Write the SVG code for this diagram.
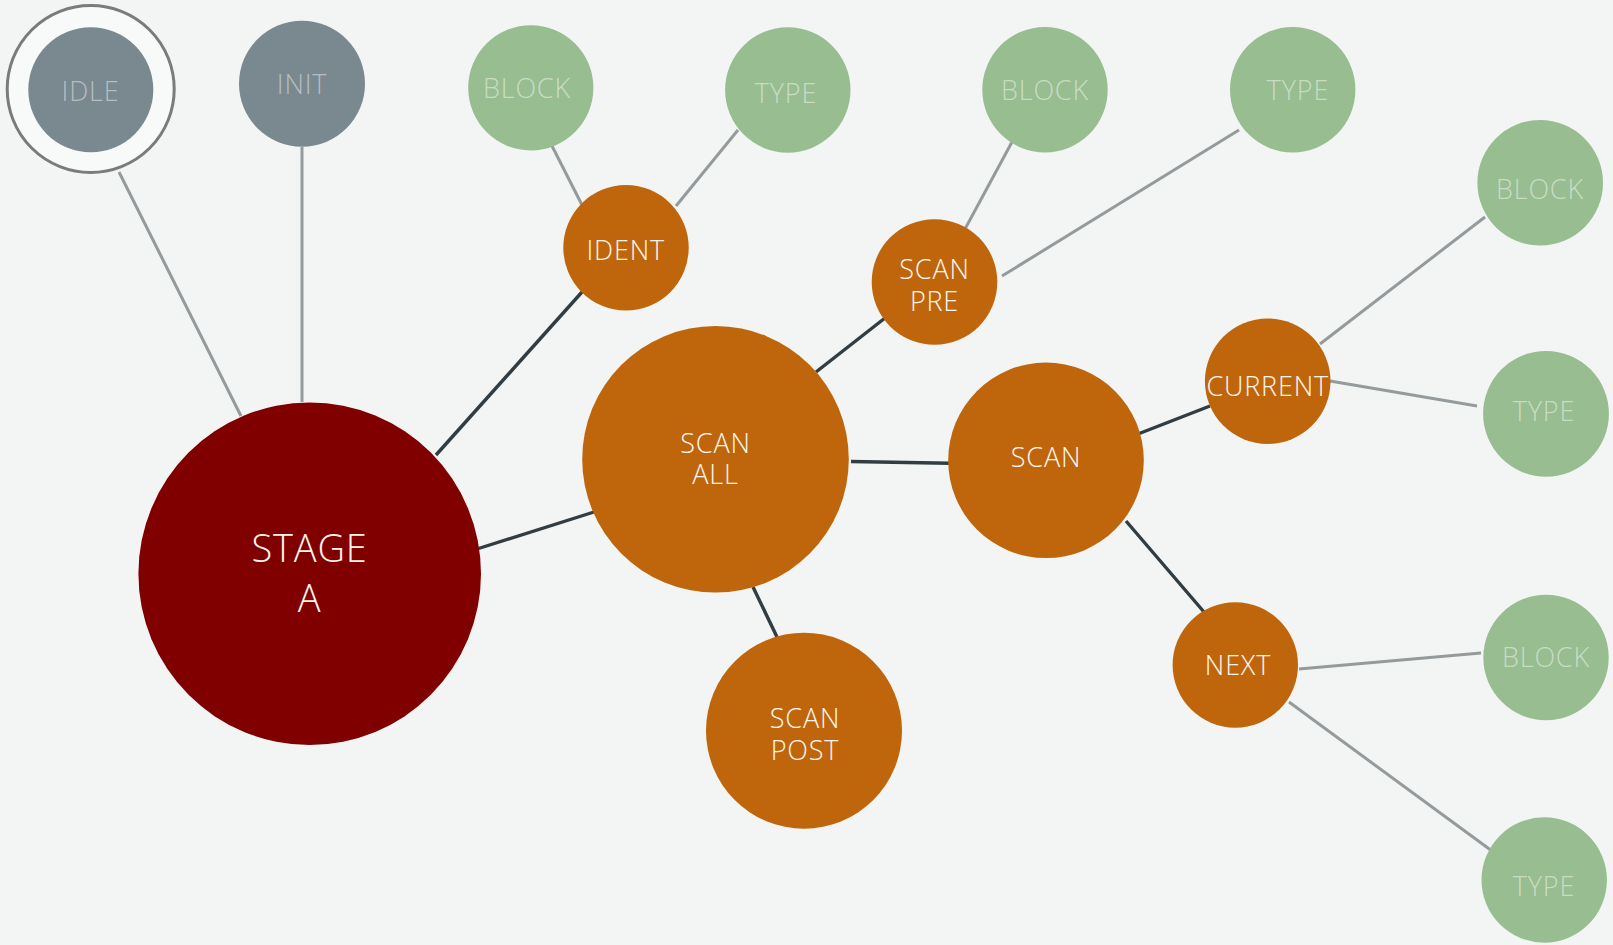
<svg xmlns="http://www.w3.org/2000/svg" width="1613" height="945" viewBox="0 0 1613 945">
<style>
.bg{fill:#f3f5f4}
.dk{stroke:#313d42;stroke-width:3.4;fill:none}
.lt{stroke:#959b9d;stroke-width:3;fill:none}
.red{fill:#800000}
.org{fill:#bf660c}
.grn{fill:#97bd91}
.gry{fill:#7a8890}
text{font-family:"Open Sans","Liberation Sans",sans-serif;font-size:27px;font-weight:300;text-anchor:middle;letter-spacing:0.8px}
.tw{fill:#fdf6ee}
.tg{fill:#c8dcc3}
.tgr{fill:#b5bdc1}
</style>
<rect class="bg" x="0" y="0" width="1613" height="945"/>
<g id="connectors">
<line class="lt" x1="119" y1="172" x2="241" y2="416"/>
<line class="lt" x1="302" y1="147" x2="302" y2="402"/>
<line class="dk" x1="436" y1="455" x2="582" y2="292"/>
<line class="dk" x1="477" y1="549" x2="594" y2="512"/>
<line class="lt" x1="550" y1="142" x2="582" y2="205"/>
<line class="lt" x1="738" y1="130" x2="676" y2="206"/>
<line class="dk" x1="816" y1="372" x2="885" y2="318"/>
<line class="lt" x1="1012" y1="142" x2="965" y2="229"/>
<line class="lt" x1="1239" y1="130" x2="1002" y2="276"/>
<line class="dk" x1="851" y1="461.5" x2="949" y2="463.3"/>
<line class="dk" x1="753" y1="587" x2="777" y2="637"/>
<line class="dk" x1="1138" y1="434" x2="1210" y2="406"/>
<line class="lt" x1="1320" y1="344" x2="1485" y2="217"/>
<line class="lt" x1="1330" y1="381" x2="1477" y2="406"/>
<line class="dk" x1="1126" y1="521" x2="1204" y2="612"/>
<line class="lt" x1="1299" y1="669" x2="1481" y2="653"/>
<line class="lt" x1="1289" y1="702" x2="1492" y2="851"/>
</g>
<g id="idle">
<circle cx="90.7" cy="89" r="83.5" fill="#f8f9f9" stroke="#7b7b7b" stroke-width="3"/>
<circle class="gry" cx="90.8" cy="89.7" r="62.5"/>
<text class="tgr" x="90.5" y="100.7">IDLE</text>
</g>
<g id="init">
<circle class="gry" cx="302" cy="83.7" r="63"/>
<text class="tgr" x="302" y="94">INIT</text>
</g>
<g id="stage-a">
<circle class="red" cx="309.7" cy="573.7" r="171.3"/>
<text class="tw" x="309.5" y="562.3" style="font-size:38px">STAGE</text>
<text class="tw" x="309.5" y="612.3" style="font-size:38px">A</text>
</g>
<g id="block-1">
<circle class="grn" cx="530.8" cy="87.8" r="62.6"/>
<text class="tg" x="527" y="98.3">BLOCK</text>
</g>
<g id="type-1">
<circle class="grn" cx="787.8" cy="90" r="62.7"/>
<text class="tg" x="786" y="103">TYPE</text>
</g>
<g id="ident">
<circle class="org" cx="626" cy="247.8" r="62.7"/>
<text class="tw" x="625.7" y="260">IDENT</text>
</g>
<g id="block-2">
<circle class="grn" cx="1045" cy="89.7" r="62.7"/>
<text class="tg" x="1045" y="100">BLOCK</text>
</g>
<g id="type-2">
<circle class="grn" cx="1292.7" cy="89.7" r="62.7"/>
<text class="tg" x="1298" y="100">TYPE</text>
</g>
<g id="scan-pre">
<circle class="org" cx="934.5" cy="282" r="62.8"/>
<text class="tw" x="934.5" y="278.7">SCAN</text>
<text class="tw" x="934.5" y="310.7">PRE</text>
</g>
<g id="scan-all">
<circle class="org" cx="715.5" cy="459.3" r="133.3"/>
<text class="tw" x="715.5" y="452.7">SCAN</text>
<text class="tw" x="715.5" y="484">ALL</text>
</g>
<g id="scan">
<circle class="org" cx="1046" cy="460.3" r="97.8"/>
<text class="tw" x="1046" y="466.7">SCAN</text>
</g>
<g id="scan-post">
<circle class="org" cx="804" cy="730.7" r="98"/>
<text class="tw" x="805" y="727.7">SCAN</text>
<text class="tw" x="805" y="760">POST</text>
</g>
<g id="block-3">
<circle class="grn" cx="1540.2" cy="182.8" r="62.8"/>
<text class="tg" x="1540" y="199">BLOCK</text>
</g>
<g id="current">
<circle class="org" cx="1267.7" cy="381.2" r="62.8"/>
<text class="tw" x="1267.7" y="395.7">CURRENT</text>
</g>
<g id="type-3">
<circle class="grn" cx="1546" cy="413.8" r="62.9"/>
<text class="tg" x="1544" y="421">TYPE</text>
</g>
<g id="next">
<circle class="org" cx="1235.3" cy="665" r="62.7"/>
<text class="tw" x="1238" y="675">NEXT</text>
</g>
<g id="block-4">
<circle class="grn" cx="1546" cy="657.5" r="62.7"/>
<text class="tg" x="1546" y="667.3">BLOCK</text>
</g>
<g id="type-4">
<circle class="grn" cx="1544.2" cy="880" r="62.7"/>
<text class="tg" x="1544" y="895.7">TYPE</text>
</g>
</svg>
